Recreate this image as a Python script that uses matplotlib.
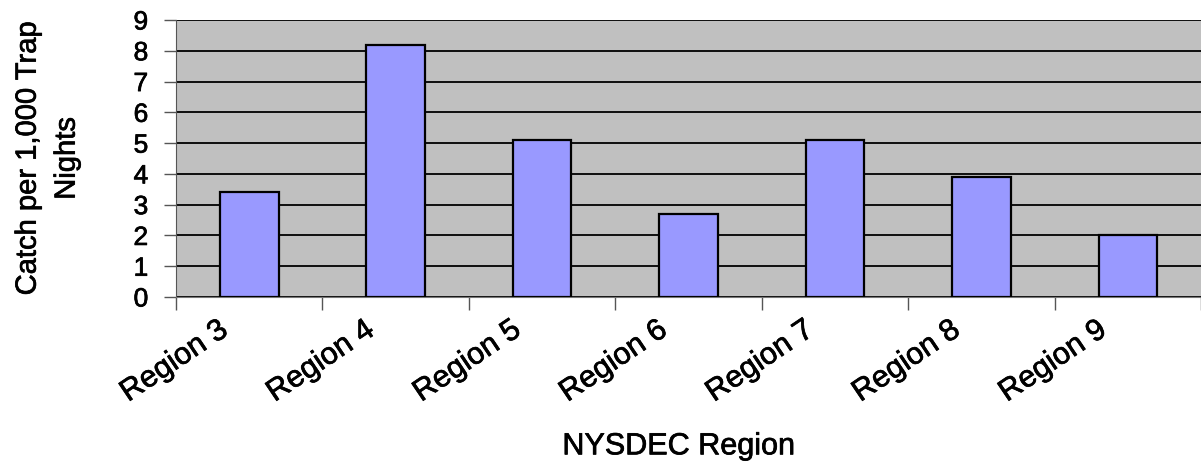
import matplotlib.pyplot as plt
import matplotlib.patheffects as pe
import matplotlib.transforms as mtransforms
import numpy as np

plt.rcParams['font.family'] = ['Liberation Sans', 'DejaVu Sans']

# catch rates by NYSDEC region
regions = ['Region 3', 'Region 4', 'Region 5', 'Region 6', 'Region 7', 'Region 8', 'Region 9']
catch = [3.4, 8.2, 5.1, 2.7, 5.1, 3.9, 2.0]

# slightly heavier strokes on the text
heavy = [pe.withStroke(linewidth=0.5, foreground='black')]

fig = plt.figure(figsize=(12.01, 4.63), dpi=100)
ax = fig.add_axes([176 / 1201, 1 - 297 / 463, 1 - 176 / 1201, 277 / 463])
ax.set_facecolor('#C0C0C0')

x = np.arange(len(regions))
ax.bar(x, catch, width=0.4, color='#9999FF', edgecolor='black', linewidth=1.6, zorder=3)

ax.set_xlim(-0.5, len(regions) - 0.5)
ax.set_ylim(0, 9)
ax.set_yticks(range(10))
ax.yaxis.grid(True, color='black', linewidth=1.3, zorder=1)
ax.set_axisbelow(True)

# category ticks sit between the bars
ax.set_xticks(np.arange(len(regions) + 1) - 0.5)
ax.set_xticklabels([])
ax.tick_params(axis='x', which='major', length=9, width=1, color='#555555', direction='out')
ax.set_xticks(x, minor=True)
ax.set_xticklabels(regions, minor=True, rotation=34, ha='right', va='top',
                   rotation_mode='anchor', fontsize=22)
ax.tick_params(axis='x', which='minor', length=0, pad=13)
ax.tick_params(axis='y', length=9, width=1, color='#555555', labelsize=19, pad=11)

shift = mtransforms.ScaledTranslation(-0.33, 0, fig.dpi_scale_trans)
for t in ax.get_xticklabels(minor=True):
    t.set_transform(t.get_transform() + shift)

for side in ['top', 'right']:
    ax.spines[side].set_visible(False)
ax.spines['left'].set_color('#555555')
ax.spines['bottom'].set_color('#777777')

ax.set_ylabel('Catch per 1,000 Trap\nNights', fontsize=21, labelpad=38, linespacing=1.5)
ax.set_xlabel('NYSDEC Region', fontsize=22)
ax.xaxis.set_label_coords(0.49, -0.485)

for t in ax.get_xticklabels(minor=True) + ax.get_yticklabels() + [ax.xaxis.label, ax.yaxis.label]:
    t.set_path_effects(heavy)

fig.savefig('out.png', dpi=100)
